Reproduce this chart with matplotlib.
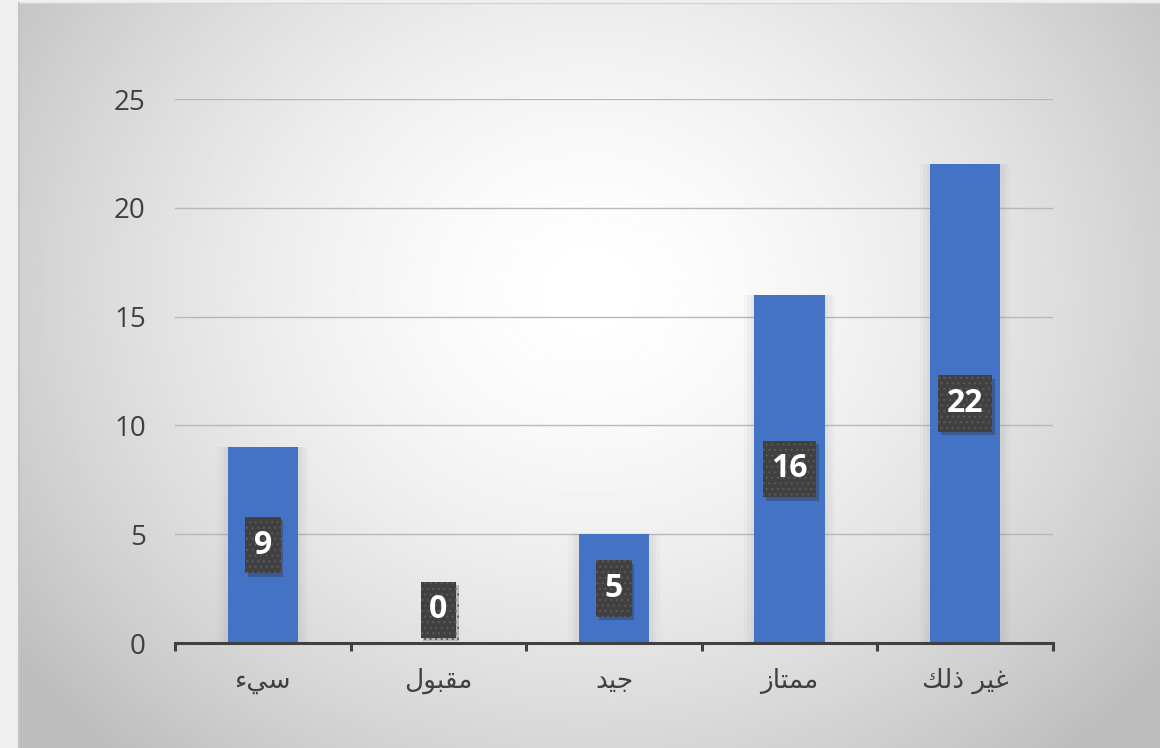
import numpy as np
import matplotlib.pyplot as plt
import matplotlib.patheffects as pe

# Data
categories = ["سيء", "مقبول", "جيد", "ممتاز", "غير ذلك"]
values = [9, 0, 5, 16, 22]
y_ticks = [0, 5, 10, 15, 20, 25]

# Arabic contextual forms (isolated, final, initial, medial)
FORMS = {
    "ء": ("\uFE80",),
    "ا": ("\uFE8D", "\uFE8E"),
    "ب": ("\uFE8F", "\uFE90", "\uFE91", "\uFE92"),
    "ت": ("\uFE95", "\uFE96", "\uFE97", "\uFE98"),
    "ج": ("\uFE9D", "\uFE9E", "\uFE9F", "\uFEA0"),
    "د": ("\uFEA9", "\uFEAA"),
    "ذ": ("\uFEAB", "\uFEAC"),
    "ر": ("\uFEAD", "\uFEAE"),
    "ز": ("\uFEAF", "\uFEB0"),
    "س": ("\uFEB1", "\uFEB2", "\uFEB3", "\uFEB4"),
    "غ": ("\uFECD", "\uFECE", "\uFECF", "\uFED0"),
    "ق": ("\uFED5", "\uFED6", "\uFED7", "\uFED8"),
    "ك": ("\uFED9", "\uFEDA", "\uFEDB", "\uFEDC"),
    "ل": ("\uFEDD", "\uFEDE", "\uFEDF", "\uFEE0"),
    "م": ("\uFEE1", "\uFEE2", "\uFEE3", "\uFEE4"),
    "و": ("\uFEED", "\uFEEE"),
    "ي": ("\uFEF1", "\uFEF2", "\uFEF3", "\uFEF4"),
}


def shape(word):
    # join letters and reverse for left-to-right drawing
    out = []
    for i, ch in enumerate(word):
        f = FORMS.get(ch)
        if f is None:
            out.append(ch)
            continue
        prev = word[i - 1] if i > 0 else ""
        nxt = word[i + 1] if i + 1 < len(word) else ""
        join_prev = len(f) > 1 and prev in FORMS and len(FORMS[prev]) == 4
        join_next = len(f) == 4 and nxt in FORMS and len(FORMS[nxt]) > 1
        if join_prev and join_next:
            out.append(f[3])
        elif join_prev:
            out.append(f[1])
        elif join_next:
            out.append(f[2])
        else:
            out.append(f[0])
    return "".join(reversed(out))


W, H = 1160, 748
fig = plt.figure(figsize=(W / 100, H / 100), dpi=100)

# Background: light strip + radial gradient chart area
bg = fig.add_axes([0, 0, 1, 1])
bg.set_xlim(0, W)
bg.set_ylim(H, 0)
bg.axis("off")
bg.add_patch(plt.Rectangle((0, 0), W, H, color="#efefef", zorder=0))
gx, gy = np.meshgrid(np.linspace(19, W, 400), np.linspace(3, H, 300))
r = np.hypot(gx - 590, (gy - 290) * 1.15) / 720
shade = 1 - 0.26 * np.clip(r, 0, 1) ** 1.6
bg.imshow(shade, cmap="gray", vmin=0, vmax=1, extent=(19, W, H, 3),
          aspect="auto", zorder=1)
bg.plot([19, 19], [3, H], color="#c4c4c4", lw=1.5, zorder=2)
bg.plot([19, W], [3, 3], color="#d4d4d4", lw=1, zorder=2)

ax = fig.add_axes([175 / W, 1 - 643 / H, (1053 - 175) / W, (643 - 99) / H])
ax.patch.set_alpha(0)

x = np.arange(len(categories))

# soft shadow around bars
for w, a in [(0.52, 0.04), (0.48, 0.05), (0.44, 0.06)]:
    ax.bar(x, values, width=w, color="#808080", alpha=a, zorder=2, linewidth=0)
ax.bar(x, values, width=0.4, color="#4472C4", zorder=3, linewidth=0)

# data labels: dark dotted boxes with white bold numbers
plt.rcParams["hatch.linewidth"] = 0.8
for xi, v in zip(x, values):
    off = 24 if v == 0 else 0
    t = ax.annotate(str(v), (xi, v / 2), xytext=(0, off), textcoords="offset points",
                    ha="center", va="center", fontsize=23, fontweight="bold",
                    family="Open Sans", color="white", zorder=5,
                    bbox=dict(boxstyle="square,pad=0.27", fc="#404040",
                              ec="#595959", lw=0, hatch="...",
                              mutation_aspect=1.35))
    t.get_bbox_patch().set_path_effects(
        [pe.SimplePatchShadow(offset=(2, -2.5), shadow_rgbFace="black", alpha=0.2),
         pe.Normal()])

ax.set_xlim(-0.5, len(categories) - 0.5)
ax.set_ylim(0, 25)
ax.set_yticks(y_ticks)
ax.set_yticklabels([str(t) for t in y_ticks], family="Open Sans", fontsize=20,
                   color="#404040")
ax.set_xticks(x)
ax.set_xticklabels([shape(c) for c in categories], family="DejaVu Sans",
                   fontsize=19, color="#404040")
ax.set_xticks(np.arange(-0.5, len(categories), 1), minor=True)
ax.tick_params(axis="x", which="major", length=0, pad=18)
ax.tick_params(axis="x", which="minor", length=6, width=2.2, color="#404040",
               direction="out")
ax.tick_params(axis="y", length=0, pad=21)
ax.yaxis.grid(True, color="#b8b8b8", lw=1, zorder=1)
for g in ax.yaxis.get_gridlines()[:1]:
    g.set_visible(False)
ax.set_axisbelow(True)
for s in ["top", "right", "left"]:
    ax.spines[s].set_visible(False)
ax.spines["bottom"].set_color("#404040")
ax.spines["bottom"].set_linewidth(2.2)
ax.spines["bottom"].set_zorder(6)

fig.savefig("out.png", dpi=100)
